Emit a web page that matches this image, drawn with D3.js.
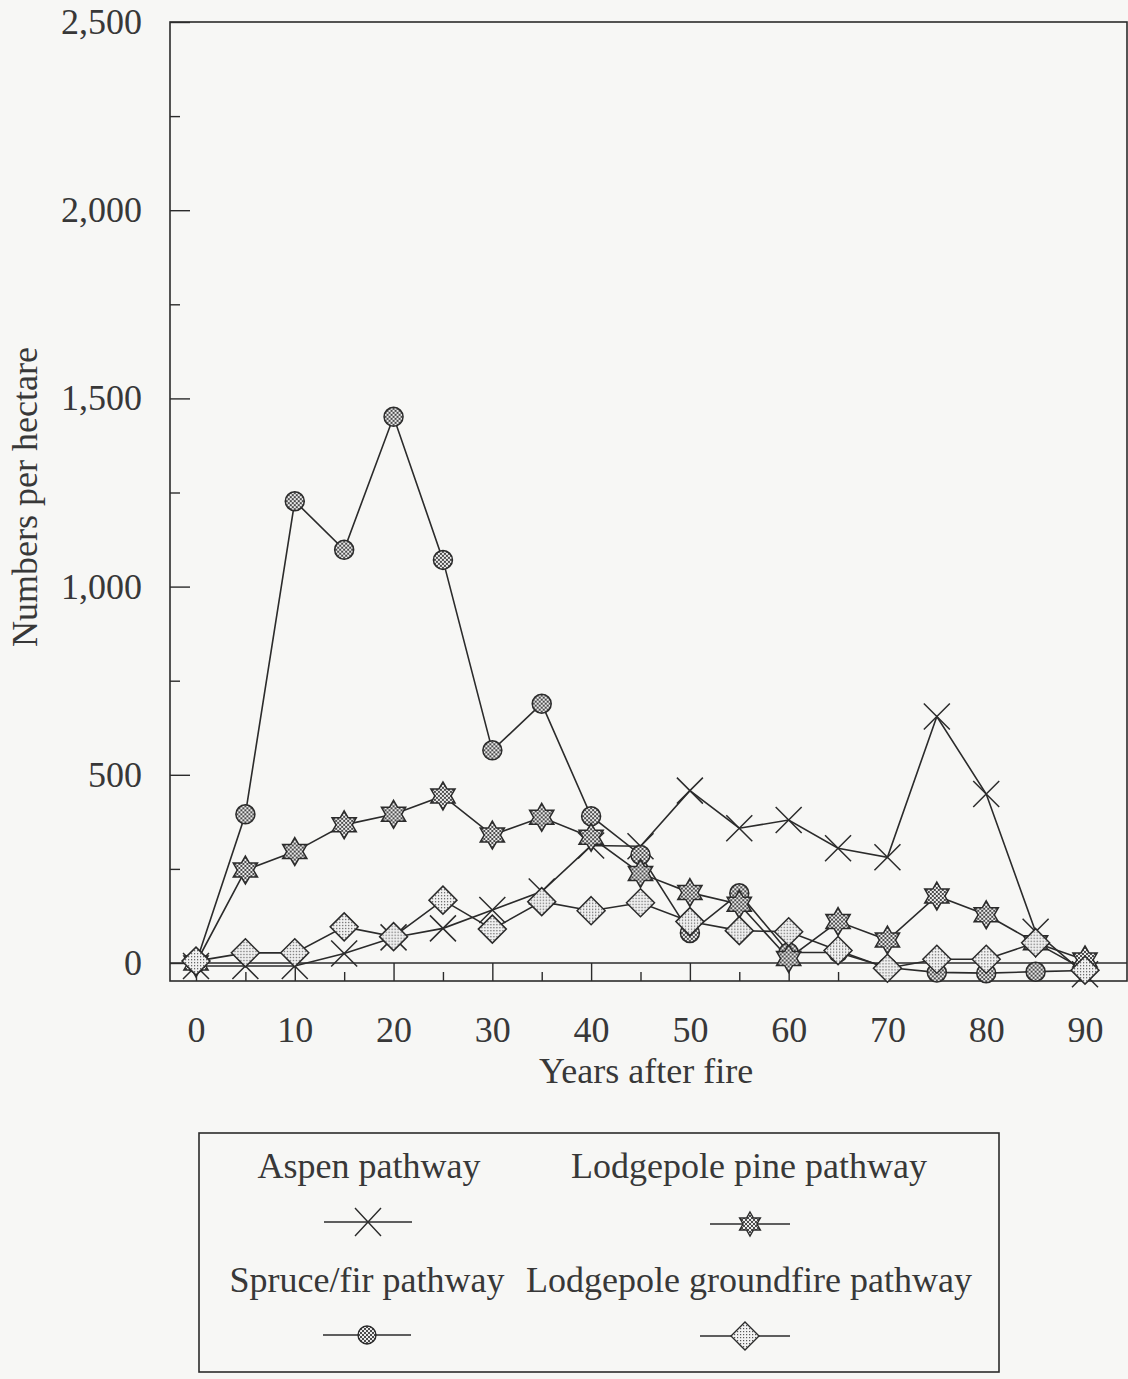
<!DOCTYPE html>
<html><head><meta charset="utf-8">
<script src="https://cdn.jsdelivr.net/npm/d3@7"></script>
<style>
body{margin:0;background:#f7f7f5}
svg{display:block}
text{font-family:"Liberation Serif","Times New Roman",serif;fill:#383838}
</style>
</head><body>
<svg id="chart" width="1128" height="1379"></svg>
<script>
// ---- data ----
const years = [0,5,10,15,20,25,30,35,40,45,50,55,60,65,70,75,80,85,90];
const aspen      = [-8,-8,-8,25,68,92,141,190,312,310,458,358,380,305,281,655,449,83,-30];
const spruceFir  = [0,395,1227,1098,1451,1071,565,689,390,287,80,185,28,28,-12,-25,-27,-23,-20];
const lodgepole  = [0,247,296,367,395,444,340,387,334,238,187,156,12,110,61,178,128,54,8];
const groundfire = [5,27,27,96,70,167,90,163,139,160,110,86,83,33,-14,10,10,54,-19];
const seriesNames = ["Aspen pathway","Lodgepole pine pathway","Spruce/fir pathway","Lodgepole groundfire pathway"];
const yMajorTicks = [0,500,1000,1500,2000,2500];
const yMinorTicks = [250,750,1250,1750,2250];
const xMajorTicks = [0,10,20,30,40,50,60,70,80,90];
const xMinorTicks = [5,15,25,35,45,55,65,75,85];
const xTitle = "Years after fire";
const yTitle = "Numbers per hectare";

// ---- layout ----
const svg = d3.select("#chart");
const frame = {left:170, top:22, right:1127, bottom:981};
const x = d3.scaleLinear().domain([0,90]).range([196,1085]);
const y = d3.scaleLinear().domain([0,2500]).range([963,22]);
const ink = "#2b2b2b";
const fs = 36;

// patterns
const defs = svg.append("defs");
const hatch = defs.append("pattern").attr("id","hatch").attr("patternUnits","userSpaceOnUse")
  .attr("width",4).attr("height",4);
hatch.append("rect").attr("width",4).attr("height",4).attr("fill","#ececec");
hatch.append("path").attr("d","M0,0L4,4M4,0L0,4").attr("stroke","#3a3a3a").attr("stroke-width",0.9);
const dots = defs.append("pattern").attr("id","dots").attr("patternUnits","userSpaceOnUse")
  .attr("width",3).attr("height",3);
dots.append("rect").attr("width",3).attr("height",3).attr("fill","#f2f2f2");
dots.append("rect").attr("x",1).attr("y",1).attr("width",1.2).attr("height",1.2).attr("fill","#555");

// frame
svg.append("rect").attr("x",frame.left).attr("y",frame.top)
  .attr("width",frame.right-frame.left).attr("height",frame.bottom-frame.top)
  .attr("fill","none").attr("stroke",ink).attr("stroke-width",1.6);
// zero line
svg.append("line").attr("x1",frame.left).attr("x2",frame.right)
  .attr("y1",y(0)).attr("y2",y(0)).attr("stroke",ink).attr("stroke-width",1.6);

// y axes
const yAxisMaj = d3.axisLeft(y).tickValues(yMajorTicks).tickSize(-20).tickPadding(28)
  .tickFormat(d3.format(","));
const yAxisMin = d3.axisLeft(y).tickValues(yMinorTicks).tickSize(-10).tickFormat("");
const gy = svg.append("g").attr("transform",`translate(${frame.left},0)`).call(yAxisMaj);
svg.append("g").attr("transform",`translate(${frame.left},0)`).call(yAxisMin)
  .call(g=>g.select(".domain").remove()).selectAll("line").attr("stroke",ink).attr("stroke-width",1.4);
gy.select(".domain").remove();
gy.selectAll("line").attr("stroke",ink).attr("stroke-width",1.4);
gy.selectAll("text").attr("font-size",fs).attr("fill","#383838")
  .style("font-family",'"Liberation Serif",serif');

// x axes
const xAxisMaj = d3.axisBottom(x).tickValues(xMajorTicks).tickSize(-18).tickPadding(35);
const xAxisMin = d3.axisBottom(x).tickValues(xMinorTicks).tickSize(-9).tickFormat("");
const gx = svg.append("g").attr("transform",`translate(0,${frame.bottom})`).call(xAxisMaj);
svg.append("g").attr("transform",`translate(0,${frame.bottom})`).call(xAxisMin)
  .call(g=>g.select(".domain").remove()).selectAll("line").attr("stroke",ink).attr("stroke-width",1.4);
gx.select(".domain").remove();
gx.selectAll("line").attr("stroke",ink).attr("stroke-width",1.4);
gx.selectAll("text").attr("font-size",fs).attr("fill","#383838")
  .style("font-family",'"Liberation Serif",serif');

// titles
svg.append("text").attr("x",646).attr("y",1083).attr("text-anchor","middle")
  .attr("font-size",fs).text(xTitle);
svg.append("text").attr("transform","translate(37,497) rotate(-90)").attr("text-anchor","middle")
  .attr("font-size",fs).text(yTitle);

// marker shapes
function hexagram(R){
  const r = R/Math.sqrt(3), pts=[];
  for(let k=0;k<12;k++){
    const a = -Math.PI/2 + k*Math.PI/6;
    const rr = k%2===0 ? R : r;
    pts.push([rr*Math.cos(a), rr*Math.sin(a)]);
  }
  return "M"+pts.map(p=>p[0].toFixed(2)+","+p[1].toFixed(2)).join("L")+"Z";
}
function diamond(s){ return `M0,${-s}L${s},0L0,${s}L${-s},0Z`; }
function cross(sx,sy){ return `M${-sx},${-sy}L${sx},${sy}M${sx},${-sy}L${-sx},${sy}`; }
function circle(r){ return `M${r},0A${r},${r} 0 1,1 ${-r},0A${r},${r} 0 1,1 ${r},0Z`; }

const series = [
  {name:seriesNames[0], values:aspen,      shape:()=>cross(13,13), fill:"none",        legendShape:()=>cross(13,14)},
  {name:seriesNames[2], values:spruceFir,  shape:()=>circle(9.5),  fill:"url(#hatch)", legendShape:()=>circle(9)},
  {name:seriesNames[1], values:lodgepole,  shape:()=>hexagram(14), fill:"url(#hatch)", legendShape:()=>hexagram(12)},
  {name:seriesNames[3], values:groundfire, shape:()=>diamond(14),  fill:"url(#dots)",  legendShape:()=>diamond(14)}
];

const line = d3.line().x((d,i)=>x(years[i])).y(d=>y(d));
series.forEach(s=>{
  svg.append("path").datum(s.values).attr("d",line)
    .attr("fill","none").attr("stroke",ink).attr("stroke-width",1.6);
});
series.forEach(s=>{
  svg.append("g").selectAll("path").data(s.values).join("path")
    .attr("transform",(d,i)=>`translate(${x(years[i])},${y(d)})`)
    .attr("d",s.shape())
    .attr("fill",s.fill).attr("stroke",ink).attr("stroke-width",1.5);
});

// legend
const lg = svg.append("g");
lg.append("rect").attr("x",199).attr("y",1133).attr("width",800).attr("height",239)
  .attr("fill","none").attr("stroke",ink).attr("stroke-width",1.6);
const legendItems = [
  {s:series[0], tx:369, ty:1178, sx:368, sy:1222, half:44},
  {s:series[2], tx:749, ty:1178, sx:750, sy:1224, half:40},
  {s:series[1], tx:367, ty:1292, sx:367, sy:1335, half:44},
  {s:series[3], tx:749, ty:1292, sx:745, sy:1336, half:45}
];
legendItems.forEach(it=>{
  lg.append("text").attr("x",it.tx).attr("y",it.ty).attr("text-anchor","middle")
    .attr("font-size",fs).text(it.s.name);
  lg.append("line").attr("x1",it.sx-it.half).attr("x2",it.sx+it.half)
    .attr("y1",it.sy).attr("y2",it.sy).attr("stroke",ink).attr("stroke-width",1.6);
  lg.append("path").attr("transform",`translate(${it.sx},${it.sy})`).attr("d",it.s.legendShape())
    .attr("fill",it.s.fill).attr("stroke",ink).attr("stroke-width",1.4);
});
</script>
</body></html>
